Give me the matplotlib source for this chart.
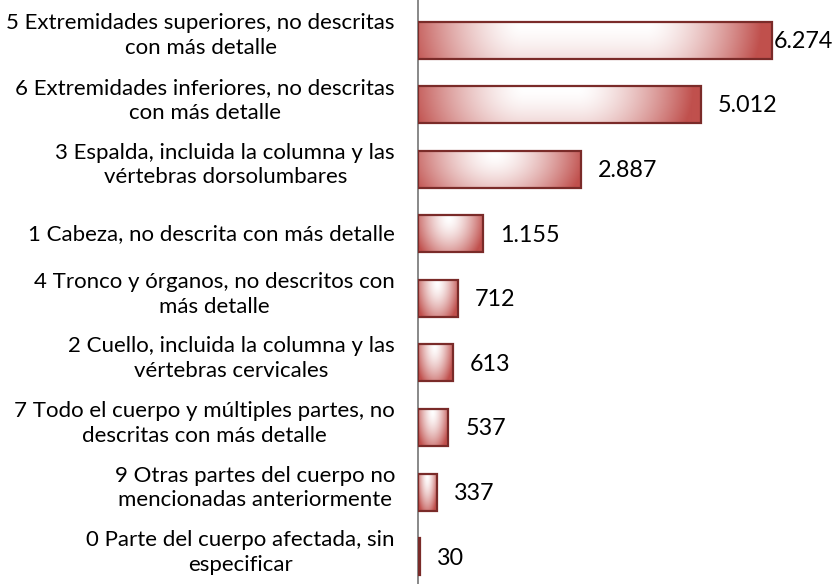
import numpy as np
import matplotlib
matplotlib.use("Agg")
import matplotlib.pyplot as plt
from matplotlib.patches import Rectangle

categories = [
    "5 Extremidades superiores, no descritas\ncon más detalle",
    "6 Extremidades inferiores, no descritas\ncon más detalle",
    "3 Espalda, incluida la columna y las\nvértebras dorsolumbares",
    "1 Cabeza, no descrita con más detalle",
    "4 Tronco y órganos, no descritos con\nmás detalle",
    "2 Cuello, incluida la columna y las\nvértebras cervicales",
    "7 Todo el cuerpo y múltiples partes, no\ndescritas con más detalle",
    "9 Otras partes del cuerpo no\nmencionadas anteriormente",
    "0 Parte del cuerpo afectada, sin\nespecificar",
]
values = [6274, 5012, 2887, 1155, 712, 613, 537, 337, 30]

plt.rcParams['font.family'] = ['Lato', 'DejaVu Sans']

W, H = 834, 584
fig = plt.figure(figsize=(W / 100, H / 100), dpi=100)
ax_left_px = 418
ax = fig.add_axes([ax_left_px / W, 0, (W - ax_left_px) / W, 1])

px_per_unit = 354 / 6274.0
xmax = (W - ax_left_px) / px_per_unit
band_px = 64.6
first_center_px = 40
ytop = -first_center_px / band_px
ybot = (H - first_center_px) / band_px
ax.set_xlim(0, xmax)
ax.set_ylim(ybot, ytop)

bar_h = 37 / band_px
red = np.array([192, 80, 77]) / 255.0
white = np.array([1.0, 1.0, 1.0])

for i, v in enumerate(values):
    y0 = i - bar_h / 2
    wpx = v * px_per_unit
    hpx = 37.0
    nx = max(int(wpx), 2)
    ny = 37
    X, Y = np.meshgrid(np.arange(nx) + 0.5, np.arange(ny) + 0.5)
    cx = 0.47 * wpx
    hw = wpx / 2
    ramp = min(115.0, hw * 1.1)
    plateau = max(hw - ramp, 0)
    dxn = np.clip((np.abs(X - cx) - plateau) / ramp, 0, 1)
    Ry = hpx * (1.0 + 0.2 * wpx / hpx)
    dyn = np.clip((Y - 0.08 * hpx) / Ry, 0, 1)
    t = np.clip(np.sqrt(dxn ** 2 + dyn ** 2), 0, 1) ** 1.5
    img = white[None, None, :] * (1 - t[..., None]) + red[None, None, :] * t[..., None]
    ax.imshow(img, extent=(0, v, y0 + bar_h, y0), aspect='auto',
              interpolation='bilinear', zorder=2)
    ax.add_patch(Rectangle((0, y0), v, bar_h, facecolor='none',
                           edgecolor='#7A2B29', linewidth=1.6, zorder=3))
    lab = f"{v:,}".replace(",", ".")
    gap_px = 17 if wpx + 17 + 62 < (W - ax_left_px) else 1.5
    ax.annotate(lab, xy=(v, i), xytext=(gap_px * 0.72, -1), textcoords='offset points',
                ha='left', va='center', fontsize=16.8, color='black', zorder=4)
    ax.annotate(categories[i], xy=(0, i), xycoords=('axes fraction', 'data'),
                xytext=(-23 * 0.72, 3 if "\n" in categories[i] else 0),
                textcoords='offset points', ha='right', va='center',
                multialignment='center', fontsize=16, linespacing=1.3,
                color='black', annotation_clip=False)

for s in ['top', 'right', 'bottom']:
    ax.spines[s].set_visible(False)
ax.spines['left'].set_color('#888888')
ax.spines['left'].set_linewidth(1.4)
ax.set_xticks([])
ax.set_yticks([])
ax.set_facecolor('none')

fig.savefig('out.png', dpi=100)
